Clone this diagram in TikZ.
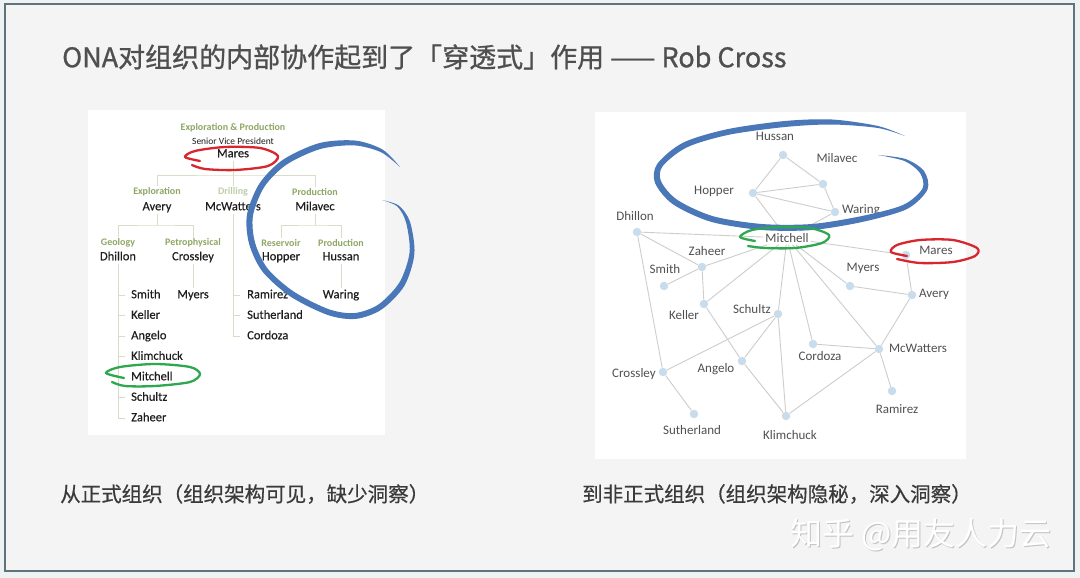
\documentclass[tikz,border=0pt]{standalone}
\usepackage{fontspec}
\setmainfont{Carlito}
\newfontfamily\orgfont[FakeBold=0.35]{Carlito}
\newfontfamily\cjk{Noto Sans CJK SC}
\newfontfamily\cjkmid[FakeBold=0.9]{Noto Sans CJK SC}
\newfontfamily\cjkcap[FakeBold=0.5]{Noto Sans CJK SC}
\usepackage{tikz}
\usetikzlibrary{positioning}
\definecolor{outerbg}{HTML}{EEF2F3}
\definecolor{framebg}{HTML}{F4F4F4}
\definecolor{framegray}{HTML}{5E737C}
\definecolor{titlegray}{HTML}{4F4F4F}
\definecolor{capgray}{HTML}{3A3A3A}
\definecolor{deptgreen}{HTML}{8FA765}
\definecolor{drillgreen}{HTML}{BFCDA8}
\definecolor{orgblack}{HTML}{1E1E1E}
\definecolor{treeline}{HTML}{D9DCC6}
\definecolor{dotblue}{HTML}{C8DCEB}
\definecolor{netgray}{HTML}{505050}
\definecolor{linkgray}{HTML}{CDCDCD}
\definecolor{penblue}{HTML}{4A77B8}
\definecolor{penred}{HTML}{D7262C}
\definecolor{pengreen}{HTML}{2EA84F}

\begin{document}
\begin{tikzpicture}[x=1pt,y=-1pt,
  orgname/.style={font=\orgfont\fontsize{12.5}{14}\selectfont,text=orgblack,inner sep=1pt,text height=9pt,text depth=2.5pt},
  orgdept/.style={font=\fontsize{10}{12}\selectfont\bfseries,text=deptgreen,inner sep=1pt},
  tree/.style={draw=treeline,line width=0.9pt},
  netdot/.style={circle,fill=dotblue,minimum size=8.5pt,inner sep=0pt},
  netname/.style={font=\fontsize{13}{15}\selectfont,text=netgray,inner sep=1pt},
  link/.style={draw=linkgray,line width=0.9pt},
  penring/.style={line width=2.3pt,line cap=round,line join=round},
  caption/.style={anchor=west,font=\cjkcap\fontsize{20.5}{24}\selectfont,text=capgray,inner sep=0pt}
]
\useasboundingbox (0,0) rectangle (1080,578);
\fill[outerbg] (0,0) rectangle (1080,578);
\draw[framegray,line width=1.5pt,fill=framebg] (5,4) rectangle (1074,571);

% title and captions
\node[anchor=west,font=\cjkmid\fontsize{27}{31}\selectfont,text=titlegray,inner sep=0pt] (title) at (62,57) {ONA对组织的内部协作起到了「穿透式」作用 —— Rob Cross};
\node[caption] (capL) at (60,494) {从正式组织（组织架构可见，缺少洞察）};
\node[caption] (capR) at (582,494) {到非正式组织（组织架构隐秘，深入洞察）};

% panels
\fill[white] (88,110) rectangle (385,435);
\fill[white] (595,112) rectangle (966,459);

% ---- formal org chart ----
\node[orgdept] (ep) at (233,128) {Exploration \& Production};
\node[font=\fontsize{9.5}{11}\selectfont,text=orgblack,inner sep=1pt] (svp) at (233,141) {Senior Vice President};
\node[orgname] (mares) at (233,154) {Mares};
\node[orgdept] (explor) at (157,192) {Exploration};
\node[orgname] (avery) at (157,207) {Avery};
\node[orgdept,text=drillgreen] (drill) at (233,192) {Drilling};
\node[orgname] (mcw) at (233,207) {McWatters};
\node[orgdept] (prodA) at (315,192) {Production};
\node[orgname] (milavec) at (315,207) {Milavec};
\node[orgdept] (geo) at (118,243) {Geology};
\node[orgname] (dhillon) at (118,257) {Dhillon};
\node[orgdept] (petro) at (193,243) {Petrophysical};
\node[orgname] (crossley) at (193,257) {Crossley};
\node[orgdept] (resv) at (281,243) {Reservoir};
\node[orgname] (hopper) at (281,257) {Hopper};
\node[orgdept] (prodB) at (341,243) {Production};
\node[orgname] (hussan) at (341,257) {Hussan};
\node[orgname] (myers) at (193,295) {Myers};
\node[orgname] (waring) at (341,295) {Waring};
\node[orgname,anchor=west] (smith) at (130,295) {Smith};
\node[orgname,below=6.6pt of smith.south west,anchor=north west] (keller) {Keller};
\node[orgname,below=6.6pt of keller.south west,anchor=north west] (angelo) {Angelo};
\node[orgname,below=6.6pt of angelo.south west,anchor=north west] (klim) {Klimchuck};
\node[orgname,below=6.6pt of klim.south west,anchor=north west] (mitch) {Mitchell};
\node[orgname,below=6.6pt of mitch.south west,anchor=north west] (schultz) {Schultz};
\node[orgname,below=6.6pt of schultz.south west,anchor=north west] (zaheer) {Zaheer};
\node[orgname,anchor=west] (ramirez) at (246,295) {Ramirez};
\node[orgname,below=6.6pt of ramirez.south west,anchor=north west] (suth) {Sutherland};
\node[orgname,below=6.6pt of suth.south west,anchor=north west] (cordoza) {Cordoza};

\coordinate (j0) at (233,175);
\coordinate (j1) at (157,225);
\coordinate (j2) at (315,225);
\draw[tree] (mares) -- (j0);
\draw[tree] (explor.north) |- (j0) -| (prodA.north);
\draw[tree] (j0) -- (drill.north);
\draw[tree] (avery) -- (j1);
\draw[tree] (geo.north) |- (j1) -| (petro.north);
\draw[tree] (milavec) -- (j2);
\draw[tree] (resv.north) |- (j2) -| (prodB.north);
\draw[tree] (crossley) -- (myers);
\draw[tree] (hussan) -- (waring);
\draw[tree] (dhillon) -- (dhillon |- zaheer);
\foreach \n in {smith,keller,angelo,klim,mitch,schultz,zaheer}
  \draw[tree] (\n.west) ++(-5,0) -- (dhillon |- \n);
\draw[tree] (mcw) -- (mcw |- cordoza);
\foreach \n in {ramirez,suth,cordoza}
  \draw[tree] (\n.west) ++(-6,0) -- (mcw |- \n);

% pen marks, left
\draw[penring,penred] plot[smooth] coordinates {(200,161) (185,157) (195,151) (225,147) (260,148) (278,156) (268,166) (235,170) (205,169) (192,165)};
\draw[penring,pengreen] plot[smooth] coordinates {(124,378) (106,373) (120,367) (155,364) (190,367) (200,374) (190,382) (155,386) (125,386) (112,382)};
\fill[penblue] plot[smooth] coordinates {(400,167) (382.8,149.7) (355.6,140.6) (319.6,143) (283.3,159.5) (259.5,183.4) (247,214.5) (249,243.5) (262.4,271.5) (290.4,296.5) (327.8,315) (355.8,318.9) (381.6,309.5) (404.4,285.8) (414.4,253.7) (410,221.8) (398.9,205.7) (382,200)}
  -- plot[smooth] coordinates {(382,200) (397.1,206.3) (406,222.2) (409.6,252.3) (399.6,282.2) (378.4,304.5) (354.2,313.1) (328.2,309) (293.6,291.5) (267.6,268.5) (255,242.5) (253,215.5) (264.5,186.6) (286.7,164.5) (320.4,149) (354.4,145.4) (381.2,152.3) (400,167)} -- cycle;

% ---- informal network ----
\node[netdot] (hus) at (783,155) {};
\node[netdot] (mil) at (823,184) {};
\node[netdot] (hop) at (753,193) {};
\node[netdot] (war) at (835,212) {};
\node[netdot] (dhi) at (637,232) {};
\node[netdot] (zah) at (702,267) {};
\node[netdot] (mar) at (906,255) {};
\node[netdot] (smi) at (664,286) {};
\node[netdot] (mye) at (850,286) {};
\node[netdot] (ave) at (912,295) {};
\node[netdot] (kel) at (704,304) {};
\node[netdot] (sch) at (778,314) {};
\node[netdot] (cor) at (813,344) {};
\node[netdot] (mcx) at (879,349) {};
\node[netdot] (cro) at (663,372) {};
\node[netdot] (ang) at (742,361) {};
\node[netdot] (ram) at (892,391) {};
\node[netdot] (sut) at (694,414) {};
\node[netdot] (kli) at (786,416) {};
\node[netname,inner sep=2pt] (mit) at (787,238) {Mitchell};

\draw[link] (hus) -- (hop);
\draw[link] (hus) -- (mil);
\draw[link] (hop) -- (mil);
\draw[link] (hop) -- (war);
\draw[link] (mil) -- (war);
\draw[link] (hop) -- (mit);
\draw[link] (war) -- (mit);
\draw[link] (dhi) -- (mit);
\draw[link] (dhi) -- (zah);
\draw[link] (dhi) -- (cro);
\draw[link] (zah) -- (mit);
\draw[link] (zah) -- (smi);
\draw[link] (zah) -- (kel);
\draw[link] (mit) -- (kel);
\draw[link] (mit) -- (sch);
\draw[link] (sch) -- (kli);
\draw[link] (mit) -- (cor);
\draw[link] (mit) -- (mcx);
\draw[link] (mit) -- (mye);
\draw[link] (mit) -- (mar);
\draw[link] (mar) -- (ave);
\draw[link] (mye) -- (ave);
\draw[link] (mcx) -- (ave);
\draw[link] (mcx) -- (ram);
\draw[link] (cor) -- (mcx);
\draw[link] (kli) -- (mcx);
\draw[link] (kel) -- (ang);
\draw[link] (ang) -- (kli);
\draw[link] (sch) -- (ang);
\draw[link] (sch) -- (cro);
\draw[link] (cro) -- (sut);

\node[netname] (husL) at (775,136) {Hussan};
\node[netname] (milL) at (837,158) {Milavec};
\node[netname] (hopL) at (714,191) {Hopper};
\node[netname] (warL) at (861,210) {Waring};
\node[netname] (dhiL) at (635,216) {Dhillon};
\node[netname] (zahL) at (707,251) {Zaheer};
\node[netname] (marL) at (936,250) {Mares};
\node[netname] (smiL) at (665,269) {Smith};
\node[netname] (myeL) at (863,268) {Myers};
\node[netname] (aveL) at (934,294) {Avery};
\node[netname] (kelL) at (684,315) {Keller};
\node[netname] (schL) at (752,309) {Schultz};
\node[netname] (corL) at (820,356) {Cordoza};
\node[netname] (mcxL) at (918,348) {McWatters};
\node[netname] (croL) at (634,374) {Crossley};
\node[netname] (angL) at (716,369) {Angelo};
\node[netname] (ramL) at (897,409) {Ramirez};
\node[netname] (sutL) at (692,430) {Sutherland};
\node[netname] (kliL) at (790,435) {Klimchuck};

% pen marks, right
\fill[penblue] plot[smooth] coordinates {(905,136) (878,126) (832,119.5) (785,121) (727.3,129.2) (683,142.7) (657.2,164) (655,182.8) (672.8,204.2) (711,221.8) (762,230) (812.3,230) (863,221.8) (907,209) (927.5,189.5) (924,171) (905.5,159) (878,155)}
  -- plot[smooth] coordinates {(878,155) (904.5,161) (920,173) (922.5,188.5) (903,205) (861,216.2) (811.7,224) (762,224) (713,216.2) (677.2,199.8) (661,181.2) (662.8,166) (687,147.3) (728.7,134.8) (785,127) (832,124.5) (878,128) (905,136)} -- cycle;
\draw[penring,pengreen] plot[smooth] coordinates {(755,241) (740,237) (752,230) (780,227) (810,228) (829,235) (822,243) (795,248) (765,248) (748,246)};
\draw[penring,penred] plot[smooth] coordinates {(907,256) (891,252) (897,245) (920,240) (953,240) (977,248) (975,256) (953,262) (920,263) (897,259)};

% watermark
\node[anchor=west,font=\cjk\fontsize{32}{36}\selectfont,text=black!24,inner sep=0pt] (wmshadow) at (791.3,536.3) {知乎 @用友人力云};
\node[anchor=west,font=\cjk\fontsize{32}{36}\selectfont,text=white,inner sep=0pt] (wm) at (790,535) {知乎 @用友人力云};
\end{tikzpicture}
\end{document}
